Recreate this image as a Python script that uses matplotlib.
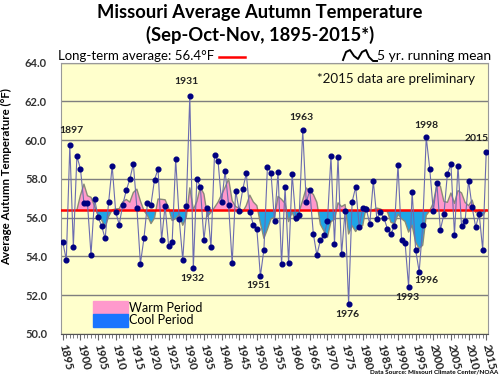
import numpy as np
import matplotlib
matplotlib.use("Agg")
import matplotlib.pyplot as plt
from matplotlib.patches import Patch
from matplotlib.lines import Line2D

plt.rcParams['font.family'] = ['Lato', 'DejaVu Sans']

# autumn (SON) mean temperature, Missouri, deg F
years = np.arange(1895, 2016)
temps = [
    54.74, 53.83, 59.73, 54.50, 59.16, 58.54, 56.74, 56.74, 54.09, 56.99,  # 1895-1904
    56.03, 55.58, 54.93, 56.79, 58.68, 56.29, 55.65, 56.68, 57.41, 57.99,  # 1905-1914
    58.78, 56.51, 53.63, 54.93, 56.74, 56.68, 57.97, 58.51, 54.85, 56.63,  # 1915-1924
    54.54, 54.74, 59.02, 55.93, 53.83, 56.63, 62.30, 53.40, 58.02, 57.56,  # 1925-1934
    54.85, 56.51, 54.47, 59.26, 58.93, 56.79, 58.40, 56.65, 53.64, 57.39,  # 1935-1944
    56.36, 57.46, 58.30, 56.31, 55.64, 55.40, 52.99, 54.36, 58.64, 58.33,  # 1945-1954
    55.81, 58.37, 53.59, 57.59, 53.64, 58.26, 55.99, 56.12, 60.52, 56.79,  # 1955-1964
    57.42, 55.17, 54.07, 54.84, 55.09, 55.81, 59.16, 54.67, 59.11, 54.11,  # 1965-1974
    56.36, 51.56, 56.82, 57.59, 55.52, 56.51, 56.46, 55.67, 57.89, 55.96,  # 1975-1984
    56.27, 55.99, 55.43, 55.17, 55.58, 58.73, 54.84, 54.71, 52.44, 57.34,  # 1985-1994
    54.33, 53.21, 55.60, 60.15, 58.51, 56.34, 57.80, 55.38, 56.17, 58.28,  # 1995-2004
    58.75, 55.12, 58.68, 55.58, 55.81, 57.92, 56.55, 55.52, 56.19, 54.35,  # 2005-2014
    59.40,                                                                 # 2015
]
avg = 56.4
labeled = {1897: (2, 10, 'bottom'), 1931: (-3, 10, 'bottom'), 1932: (-1, -6, 'top'),
           1951: (-2, -5, 'top'), 1963: (-1, 8, 'bottom'), 1976: (-1, -6, 'top'),
           1993: (-1, -6, 'top'), 1996: (7, -4, 'top'), 1998: (0, 7, 'bottom'),
           2015: (-10, 9, 'bottom')}

temps = np.array(temps)
# trailing 5-year mean, plotted at the last year of each window
run = np.convolve(temps, np.ones(5) / 5, mode='valid')
run_years = years[4:]

fig = plt.figure(figsize=(5, 3.76), dpi=100)
ax = fig.add_axes([61 / 500, 1 - 334 / 376, 427 / 500, 271.3 / 376])
ax.set_facecolor('#FFFFCC')

ax.fill_between(run_years, run, avg, where=run >= avg, interpolate=True,
                color='#FF99CC', lw=0, zorder=2)
ax.fill_between(run_years, run, avg, where=run <= avg, interpolate=True,
                color='#1FA5E6', lw=0, zorder=2)
ax.plot(run_years, run, color='#8A8A78', lw=1.0, zorder=3)
ax.axhline(avg, color='red', lw=1.8, zorder=4)
ax.plot(years, temps, color='#6B6BB0', lw=0.8, marker='o', ms=3.4,
        mfc='#000080', mec='#000080', zorder=5)

for yr, (dx, dy, va) in labeled.items():
    ax.annotate(str(yr), (yr, temps[yr - 1895]), xytext=(dx, dy),
                textcoords='offset pixels', ha='center', va=va,
                fontsize=7.5, fontweight='bold', color='#222222', zorder=6)

ax.set_xlim(1894.5, 2015.5)
ax.set_ylim(50, 64)
ax.set_yticks(np.arange(50, 64.1, 2))
ax.set_yticklabels([f'{v:.1f}' for v in np.arange(50, 64.1, 2)],
                   fontsize=8, fontweight='bold', color='#333333')
ax.set_xticks(np.arange(1895, 2016, 5))
ax.set_xticks(np.arange(1895, 2016, 1), minor=True)
ax.set_xticklabels([str(y) for y in range(1895, 2016, 5)], fontsize=8.2,
                   fontweight='bold', rotation=-77, ha='left', va='center',
                   rotation_mode='anchor', color='#222222')
ax.tick_params(axis='y', length=0, pad=10)
ax.tick_params(axis='x', which='major', length=4, pad=3, color='#666666')
ax.tick_params(axis='x', which='minor', length=3, color='#666666')
ax.grid(axis='y', color='#7F7F7F', lw=1.0, zorder=1)
ax.set_axisbelow(True)
for s in ax.spines.values():
    s.set_color('#999999')
    s.set_linewidth(0.8)
ax.spines['bottom'].set_color('#555555')

ax.text(0.97, 0.94, '*2015 data are preliminary', transform=ax.transAxes,
        ha='right', va='center', fontsize=9.6, color='#111111')

leg = ax.legend(handles=[Patch(color='#FF99CC', label='Warm Period'),
                         Patch(color='#1A75FF', label='Cool Period')],
                loc='lower left', bbox_to_anchor=(0.055, -0.005), frameon=False,
                handlelength=2.8, handleheight=1.2, labelspacing=0.0,
                handletextpad=0.1, borderpad=0.2, fontsize=9)

fig.text(0.52, 0.968, 'Missouri Average Autumn Temperature', ha='center',
         va='center', fontsize=13.2, fontweight='bold')
fig.text(0.52, 0.908, '(Sep-Oct-Nov, 1895-2015*)', ha='center', va='center',
         fontsize=13.2, fontweight='bold')
fig.text(58 / 500, 1 - 56 / 376, 'Long-term average: 56.4\u00b0F', ha='left',
         va='center', fontsize=9.5)
fig.add_artist(Line2D([219 / 500, 245 / 500], [1 - 57 / 376, 1 - 57 / 376],
                      color='red', lw=1.8))
# wavy icon for the running-mean key
icon_x = np.array([343, 346, 350, 354, 358, 362, 366, 369, 373, 377])
icon_y = np.array([60, 52, 50, 56, 59, 52, 50, 57, 61, 61])
fig.add_artist(Line2D(icon_x / 500, 1 - icon_y / 376, color='black', lw=1.4))
fig.text(377 / 500, 1 - 56 / 376, '5 yr. running mean', ha='left', va='center',
         fontsize=10)
fig.text(7 / 500, 0.53, 'Average Autumn Temperature (\u00b0F)', rotation=90,
         ha='center', va='center', fontsize=8.3, fontweight='bold')
fig.text(0.996, 0.004, 'Data Source: Missouri Climate Center/NOAA', ha='right',
         va='bottom', fontsize=4.6, fontweight='bold')

fig.savefig('out.png', dpi=100)
